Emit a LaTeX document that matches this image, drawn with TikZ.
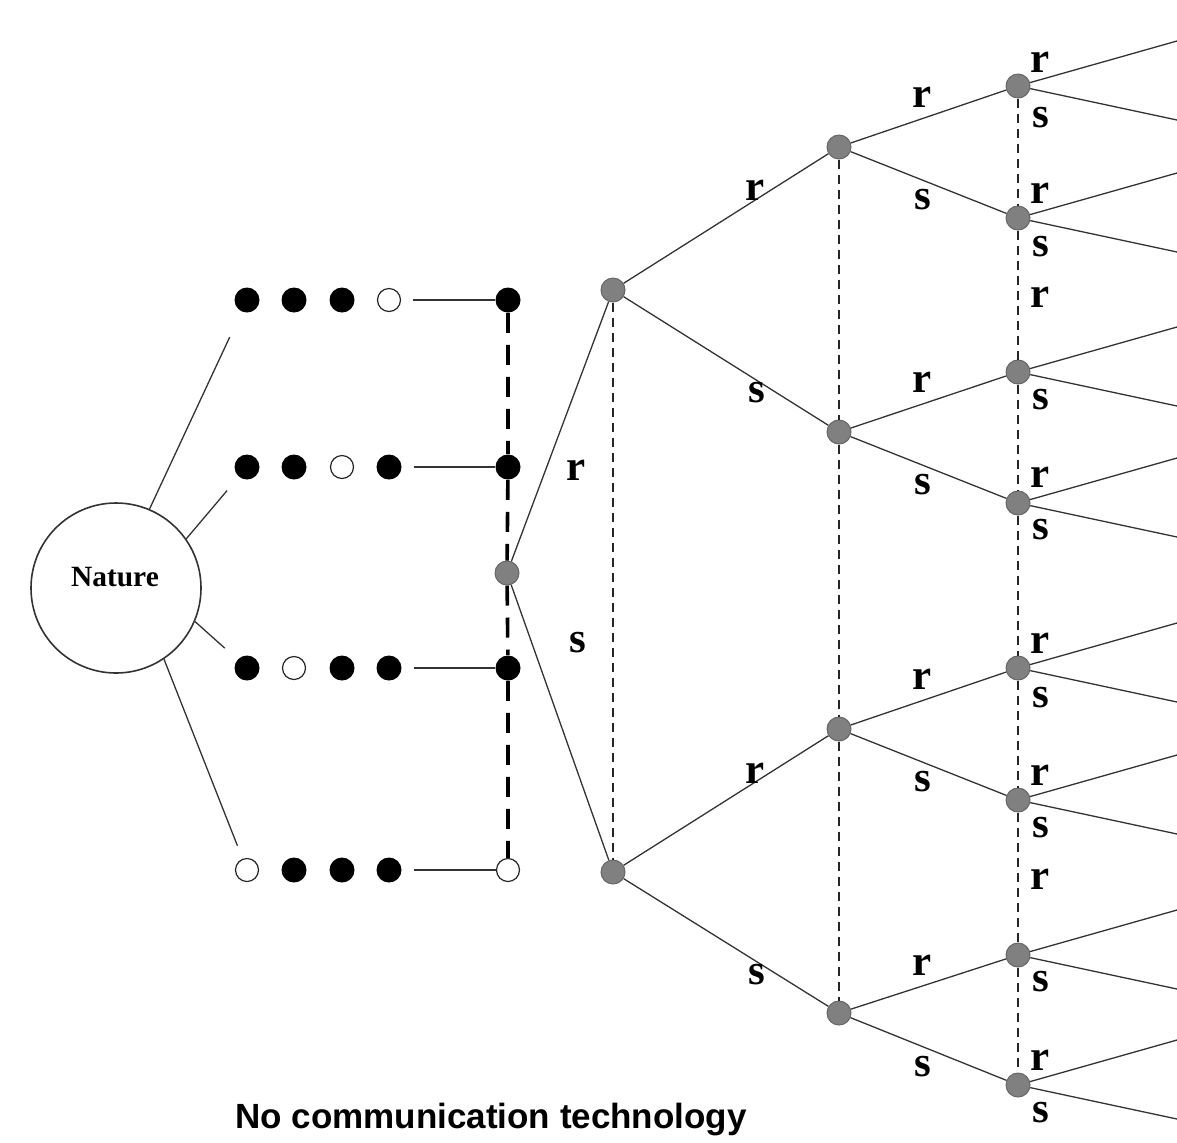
\documentclass[tikz,border=0pt]{standalone}
\usepackage{fontspec}
\setmainfont{Liberation Serif}
\newfontfamily\capfont{Liberation Sans}
\usepackage{tikz}
\usetikzlibrary{positioning, calc}
\definecolor{decgray}{HTML}{808080}
\definecolor{linegray}{HTML}{333333}
\newcommand{\pix}{0.5pt}
\tikzset{
    nature/.style={draw=linegray, circle, line width=0.8pt, minimum size=170*\pix, inner sep=0pt, font=\bfseries\fontsize{14.7}{16}\selectfont},
    dotfull/.style={circle, fill=black, minimum size=25*\pix, inner sep=0pt},
    dotopen/.style={circle, draw=black!85, fill=white, line width=0.6pt, minimum size=23*\pix, inner sep=0pt},
    decnode/.style={circle, draw=black!60, fill=decgray, line width=0.5pt, minimum size=24*\pix, inner sep=0pt},
    branch/.style={draw=linegray, line width=0.65pt},
    info/.style={draw=black!85, dash pattern=on 4.5pt off 3pt, line width=1.1pt},
    infothick/.style={draw=black, dash pattern=on 10pt off 6pt, line width=1.8pt},
    lbl/.style={font=\bfseries\fontsize{21.5}{24}\selectfont, inner sep=0pt},
%     caption/.style={font=\capfont\bfseries},
}

\begin{document}
\begin{tikzpicture}[x=\pix, y=-\pix]
        \useasboundingbox (0,0) rectangle (1177,1142);
        % Nature
        \node (nature) [nature] at (116,588) {};
        \node (naturetext) [font=\bfseries\fontsize{14.7}{16}\selectfont] at (115,577) {Nature};
        % signals
        \node (d11) [dotfull] at (247,300) {};
        \node (d12) [dotfull] at (294,300) {};
        \node (d13) [dotfull] at (342,300) {};
        \node (d14) [dotopen] at (389,300) {};
        \node (d21) [dotfull] at (247,467) {};
        \node (d22) [dotfull] at (294,467) {};
        \node (d23) [dotopen] at (342,467) {};
        \node (d24) [dotfull] at (389,467) {};
        \node (d31) [dotfull] at (247,668) {};
        \node (d32) [dotopen] at (294,668) {};
        \node (d33) [dotfull] at (342,668) {};
        \node (d34) [dotfull] at (389,668) {};
        \node (d41) [dotopen] at (247,870) {};
        \node (d42) [dotfull] at (294,870) {};
        \node (d43) [dotfull] at (342,870) {};
        \node (d44) [dotfull] at (389,870) {};
        % own state
        \node (c1) [dotfull] at (508,300) {};
        \node (c2) [dotfull] at (508,467) {};
        \node (c3) [dotfull] at (508,668) {};
        \node (c4) [dotopen] at (508,870) {};
        % decision nodes
        \node (g0) [decnode] at (507,573) {};
        \node (g1) [decnode] at (613,290) {};
        \node (g2) [decnode] at (613,872) {};
        \node (h1) [decnode] at (839,147) {};
        \node (h2) [decnode] at (839,432) {};
        \node (h3) [decnode] at (839,729) {};
        \node (h4) [decnode] at (839,1013) {};
        \node (k1) [decnode] at (1018,86) {};
        \node (k2) [decnode] at (1018,218) {};
        \node (k3) [decnode] at (1018,372) {};
        \node (k4) [decnode] at (1018,503) {};
        \node (k5) [decnode] at (1018,668) {};
        \node (k6) [decnode] at (1018,800) {};
        \node (k7) [decnode] at (1018,955) {};
        \node (k8) [decnode] at (1018,1085) {};
        % leaves
        \coordinate (k1a) at (1177,41);   \coordinate (k1b) at (1177,120);
        \coordinate (k2a) at (1177,173);  \coordinate (k2b) at (1177,252);
        \coordinate (k3a) at (1177,327);  \coordinate (k3b) at (1177,406);
        \coordinate (k4a) at (1177,458);  \coordinate (k4b) at (1177,537);
        \coordinate (k5a) at (1177,623);  \coordinate (k5b) at (1177,702);
        \coordinate (k6a) at (1177,755);  \coordinate (k6b) at (1177,834);
        \coordinate (k7a) at (1177,910);  \coordinate (k7b) at (1177,989);
        \coordinate (k8a) at (1177,1040); \coordinate (k8b) at (1177,1119);

        % links
        \draw[branch, shorten >= 14pt] (nature.67) -- (d11);
        \draw[branch, shorten >= 9pt] (nature.35) -- (d21);
        \draw[branch, shorten >= 8.5pt] (nature.-23) -- (d31);
        \draw[branch, shorten >= 7pt] (nature.-56) -- (d41);
        \draw[branch, shorten <= 6pt] (d14) -- (c1);
        \draw[branch, shorten <= 6pt] (d24) -- (c2);
        \draw[branch, shorten <= 6pt] (d34) -- (c3);
        \draw[branch, shorten <= 6pt] (d44) -- (c4);
        \draw[infothick] (c1) -- (c2) -- (g0) -- (c3) -- (c4);
        \draw[branch] (g0) -- (g1);
        \draw[branch] (g0) -- (g2);
        \draw[info] (g1) -- (g2);
        \draw[branch] (g1) -- (h1);
        \draw[branch] (g1) -- (h2);
        \draw[branch] (g2) -- (h3);
        \draw[branch] (g2) -- (h4);
        \draw[info] (h1) -- (h2) -- (h3) -- (h4);
        \draw[branch] (h1) -- (k1);
        \draw[branch] (h1) -- (k2);
        \draw[branch] (h2) -- (k3);
        \draw[branch] (h2) -- (k4);
        \draw[branch] (h3) -- (k5);
        \draw[branch] (h3) -- (k6);
        \draw[branch] (h4) -- (k7);
        \draw[branch] (h4) -- (k8);
        \draw[info] (k1) -- (k2) -- (k3) -- (k4) -- (k5) -- (k6) -- (k7) -- (k8);
        \draw[branch] (k1) -- (k1a);  \draw[branch] (k1) -- (k1b);
        \draw[branch] (k2) -- (k2a);  \draw[branch] (k2) -- (k2b);
        \draw[branch] (k3) -- (k3a);  \draw[branch] (k3) -- (k3b);
        \draw[branch] (k4) -- (k4a);  \draw[branch] (k4) -- (k4b);
        \draw[branch] (k5) -- (k5a);  \draw[branch] (k5) -- (k5b);
        \draw[branch] (k6) -- (k6a);  \draw[branch] (k6) -- (k6b);
        \draw[branch] (k7) -- (k7a);  \draw[branch] (k7) -- (k7b);
        \draw[branch] (k8) -- (k8a);  \draw[branch] (k8) -- (k8b);

        % actions
        \node (lg0r) [lbl] at (576,470) {r};
        \node (lg0s) [lbl] at (578,643) {s};
        \node (lg1r) [lbl] at (755,190) {r};
        \node (lg1s) [lbl] at (757,393) {s};
        \node (lg2r) [lbl] at (755,773) {r};
        \node (lg2s) [lbl] at (757,975) {s};
        \node (lh1r) [lbl] at (922,97) {r};
        \node (lh1s) [lbl] at (923,200) {s};
        \node (lh2r) [lbl] at (922,382) {r};
        \node (lh2s) [lbl] at (923,485) {s};
        \node (lh3r) [lbl] at (922,679) {r};
        \node (lh3s) [lbl] at (923,782) {s};
        \node (lh4r) [lbl] at (922,965) {r};
        \node (lh4s) [lbl] at (923,1067) {s};
        \node (lk1r) [lbl] at (1040,62) {r};
        \node (lk1s) [lbl] at (1041,118) {s};
        \node (lk2r) [lbl] at (1040,193) {r};
        \node (lk2s) [lbl] at (1041,247) {s};
        \node (lk3r) [lbl] at (1040,297) {r};
        \node (lk3s) [lbl] at (1041,400) {s};
        \node (lk4r) [lbl] at (1040,477) {r};
        \node (lk4s) [lbl] at (1041,530) {s};
        \node (lk5r) [lbl] at (1040,643) {r};
        \node (lk5s) [lbl] at (1041,698) {s};
        \node (lk6r) [lbl] at (1040,775) {r};
        \node (lk6s) [lbl] at (1041,828) {s};
        \node (lk7r) [lbl] at (1040,879) {r};
        \node (lk7s) [lbl] at (1041,982) {s};
        \node (lk8r) [lbl] at (1040,1060) {r};
        \node (lk8s) [lbl] at (1041,1113) {s};

        % Caption
        \node (caption) [font=\capfont\bfseries\fontsize{17.5}{20}\selectfont, anchor=base] at (491,1128) {No communication technology};
    \end{tikzpicture}
\end{document}
